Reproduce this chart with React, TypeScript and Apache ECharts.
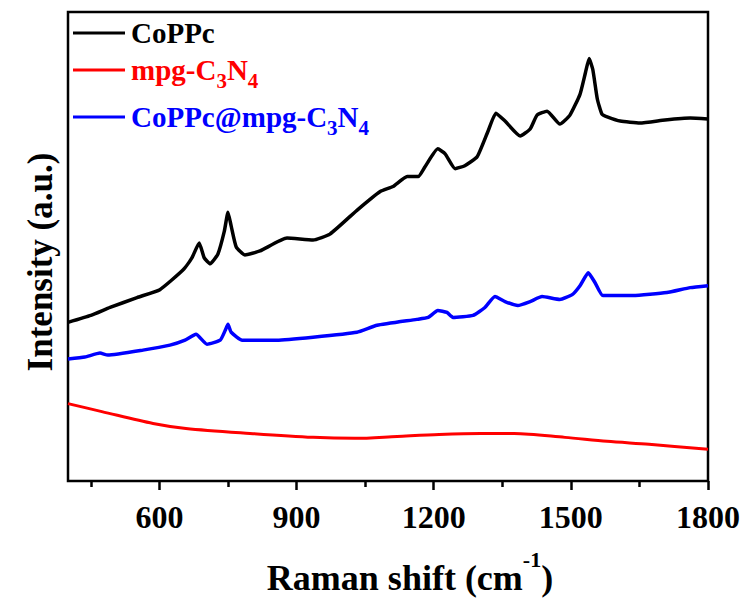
import React, { useEffect, useRef } from "react";
import * as echarts from "echarts";

const FONT = '"Liberation Serif", "Times New Roman", serif';

const xMajorTicks = [600, 900, 1200, 1500, 1800];
const xMinorTicks = [450, 750, 1050, 1350, 1650];

const coppcX = [400, 450, 492, 551, 601, 652, 671, 687, 698, 711, 728, 742, 750, 757, 768, 787, 820, 879, 936, 973, 1032, 1083, 1111, 1142, 1166, 1181, 1209, 1225, 1247, 1268, 1295, 1319, 1336, 1356, 1389, 1411, 1426, 1448, 1476, 1498, 1520, 1532, 1540, 1548, 1558, 1568, 1581, 1608, 1651, 1706, 1761, 1800];
const coppcY = [160, 167, 175, 185, 193, 213, 225, 240, 225, 219, 229, 252, 271, 257, 236, 228, 232, 245, 243, 249, 273, 292, 297, 307, 307, 317, 335, 330, 315, 318, 327, 353, 371, 363, 348, 355, 369, 373, 360, 369, 390, 412, 426, 415, 385, 370, 367, 363, 361, 364, 366, 365];

const mpgX = [400, 474, 586, 658, 798, 936, 1028, 1120, 1212, 1303, 1376, 1487, 1579, 1671, 1800];
const mpgY = [78, 70, 58, 53, 48, 44, 43, 45, 47, 48, 48, 44, 40, 37, 32];

const compX = [400, 437, 470, 487, 564, 623, 656, 680, 704, 733, 744, 750, 757, 781, 857, 936, 1032, 1076, 1163, 1188, 1209, 1229, 1242, 1286, 1312, 1334, 1356, 1384, 1411, 1437, 1476, 1503, 1520, 1538, 1553, 1570, 1636, 1710, 1761, 1800];
const compY = [123, 125, 129, 127, 132, 137, 142, 148, 138, 142, 152, 158, 150, 142, 142, 145, 150, 157, 163, 165, 172, 170, 165, 167, 175, 186, 181, 177, 181, 186, 183, 188, 197, 210, 200, 187, 187, 190, 195, 197];

const zip = (xs: number[], ys: number[]) => xs.map((x, i) => [x, ys[i]]);

const mainTok = (size: number) => ({
  fontSize: size,
  fontWeight: "bold",
  fontFamily: FONT,
  verticalAlign: "top",
});
const subTok = {
  fontSize: 21,
  fontWeight: "bold",
  fontFamily: FONT,
  verticalAlign: "top",
  padding: [15, 0, 0, 0],
};

const legendItems = [
  { y: 33, color: "#000000", text: "{m|CoPPc}" },
  { y: 70, color: "#ff0000", text: "{m|mpg-C}{s|3}{m|N}{s|4}" },
  { y: 117, color: "#0000ff", text: "{m|CoPPc@mpg-C}{s|3}{m|N}{s|4}" },
];

export default function App() {
  const ref = useRef<HTMLDivElement>(null);
  useEffect(() => {
    if (!ref.current) return;
    const chart = echarts.init(ref.current, null, { renderer: "svg" });
    const graphic: any[] = [];
    legendItems.forEach((it) => {
      graphic.push({
        type: "line",
        shape: { x1: 73, y1: it.y, x2: 125, y2: it.y },
        style: { stroke: it.color, lineWidth: 3 },
      });
      graphic.push({
        type: "text",
        x: 131,
        y: it.y - 15,
        style: {
          text: it.text,
          fill: it.color,
          verticalAlign: "top",
          align: "left",
          rich: { m: { ...mainTok(29), fill: it.color }, s: { ...subTok, fill: it.color } },
        },
      });
    });
    graphic.push({
      type: "text",
      x: 40,
      y: 262,
      rotation: Math.PI / 2,
      style: {
        text: "Intensity (a.u.)",
        fill: "#000",
        fontSize: 35,
        fontWeight: "bold",
        fontFamily: FONT,
        align: "center",
        verticalAlign: "middle",
      },
    });
    const option: any = {
      animation: false,
      backgroundColor: "#ffffff",
      grid: {
        left: 68,
        right: 44,
        top: 12,
        bottom: 116,
        show: true,
        borderColor: "#000",
        borderWidth: 2.5,
        backgroundColor: "transparent",
      },
      xAxis: [
        {
          type: "value",
          min: 400,
          max: 1800,
          position: "bottom",
          axisLine: { show: false },
          axisTick: { show: true, customValues: xMajorTicks, length: 9, lineStyle: { color: "#000", width: 2.5 } },
          axisLabel: {
            customValues: xMajorTicks,
            formatter: (v: number) => String(v),
            margin: 20,
            fontSize: 32,
            fontWeight: "bold",
            fontFamily: FONT,
            color: "#000",
          },
          splitLine: { show: false },
          name: "{a|Raman shift (cm}{b|-1}{a|)}",
          nameLocation: "middle",
          nameGap: 67,
          nameTextStyle: {
            padding: [0, 0, 0, 44],
            rich: {
              a: { fontSize: 36, fontWeight: "bold", fontFamily: FONT, color: "#000", verticalAlign: "top", padding: [12, 0, 0, 0] },
              b: { fontSize: 22, fontWeight: "bold", fontFamily: FONT, color: "#000", verticalAlign: "top" },
            },
          },
        },
        {
          type: "value",
          min: 400,
          max: 1800,
          position: "bottom",
          axisLine: { show: false },
          axisTick: { show: true, customValues: xMinorTicks, length: 6, lineStyle: { color: "#000", width: 2.5 } },
          axisLabel: { show: false },
          splitLine: { show: false },
        },
      ],
      yAxis: {
        type: "value",
        min: 0,
        max: 473,
        axisLine: { show: false },
        axisTick: { show: false },
        axisLabel: { show: false },
        splitLine: { show: false },
      },
      graphic,
      series: [
        {
          name: "CoPPc",
          type: "line",
          data: zip(coppcX, coppcY),
          showSymbol: false,
          smooth: 0.15,
          lineStyle: { color: "#000000", width: 3.5 },
          itemStyle: { color: "#000000" },
        },
        {
          name: "mpg-C3N4",
          type: "line",
          data: zip(mpgX, mpgY),
          showSymbol: false,
          smooth: 0.3,
          lineStyle: { color: "#ff0000", width: 3 },
          itemStyle: { color: "#ff0000" },
        },
        {
          name: "CoPPc@mpg-C3N4",
          type: "line",
          data: zip(compX, compY),
          showSymbol: false,
          smooth: 0.15,
          lineStyle: { color: "#0000ff", width: 3.5 },
          itemStyle: { color: "#0000ff" },
        },
      ],
    };
    chart.setOption(option);
    return () => chart.dispose();
  }, []);
  return <div ref={ref} style={{ position: "fixed", left: 0, top: 0, width: 752, height: 601 }} />;
}
